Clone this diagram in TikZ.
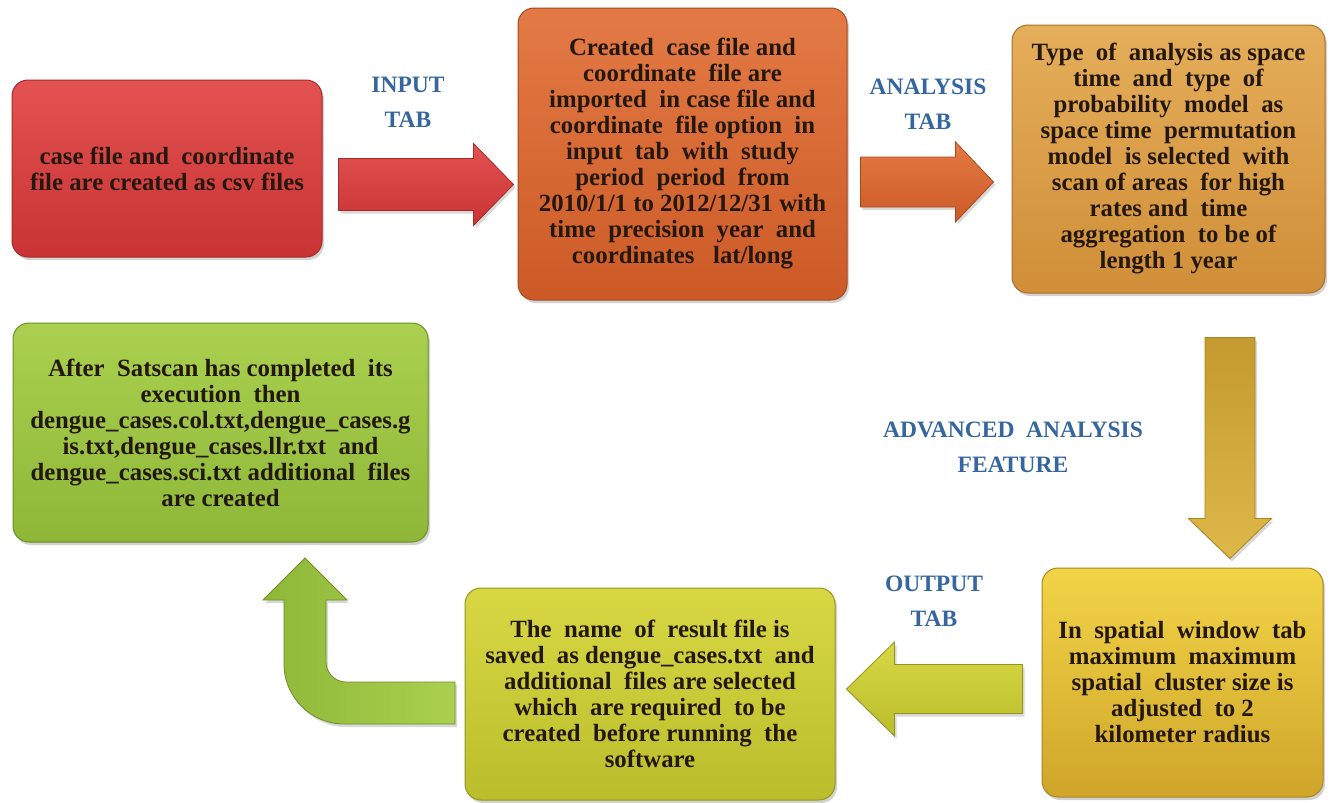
\documentclass[tikz,border=0pt]{standalone}
\usepackage{fontspec}
\setmainfont{Liberation Serif}
\usetikzlibrary{shadows,calc}
\definecolor{boxtext}{HTML}{24180E}
\definecolor{lblblue}{HTML}{35669F}
\definecolor{redT}{HTML}{E35252}\definecolor{redB}{HTML}{C93333}\definecolor{redD}{HTML}{A52A2A}
\definecolor{orT}{HTML}{E37A45}\definecolor{orB}{HTML}{CC5A26}\definecolor{orD}{HTML}{A8481E}
\definecolor{anT}{HTML}{E5AE5A}\definecolor{anB}{HTML}{D08E38}\definecolor{anD}{HTML}{A87028}
\definecolor{goT}{HTML}{F2D447}\definecolor{goB}{HTML}{CFA52A}\definecolor{goD}{HTML}{A88520}
\definecolor{daT}{HTML}{DDB848}\definecolor{daB}{HTML}{C59A30}
\definecolor{ygT}{HTML}{D8D843}\definecolor{ygB}{HTML}{BABD2C}\definecolor{ygD}{HTML}{93951E}
\definecolor{grT}{HTML}{ABD04F}\definecolor{grB}{HTML}{8EB738}\definecolor{grD}{HTML}{6E8F28}
% block arrow: #1 style, #2 tail coordinate, #3 angle, #4 length, #5 shaft half width, #6 head half width, #7 head length
\newcommand{\blockarrow}[7]{%
  \begin{scope}[shift={(#2)},rotate=#3]
    \path[#1] (0,-#5) -- ({#4-#7},-#5) -- ({#4-#7},-#6) -- (#4,0) -- ({#4-#7},#6) -- ({#4-#7},#5) -- (0,#5) -- cycle;
  \end{scope}}
\begin{document}
\begin{tikzpicture}[x=1pt,y=-1pt,
  box/.style={rounded corners=16pt, align=center, inner sep=0pt, text=boxtext,
    font=\bfseries\fontsize{24.8}{26}\selectfont, line width=1pt,
    drop shadow={shadow xshift=2pt,shadow yshift=-3pt,opacity=0.35}},
  lbl/.style={align=center, text=lblblue, font=\bfseries\fontsize{23.5}{35}\selectfont, inner sep=0pt},
  arr/.style={line width=0.8pt, drop shadow={shadow xshift=2pt,shadow yshift=-3pt,opacity=0.3}}]
\useasboundingbox (0,0) rectangle (1331,803);
\fill[white] (0,0) rectangle (1331,803);

% boxes
\node[box, draw=redD, top color=redT, bottom color=redB, minimum width=310pt, minimum height=177pt] (create) at (167,168.5)
  {case file and \ coordinate\\file are created as csv files};
\node[box, draw=orD, top color=orT, bottom color=orB, minimum width=329pt, minimum height=292pt] (import) at (682.5,154)
  {Created \ case file and\\coordinate \ file are\\imported \ in case file and\\coordinate \ file option \ in\\input \ tab \ with \ study\\period \ period \ from\\2010/1/1 to 2012/12/31 with\\time \ precision \ year \ and\\coordinates \ \ lat/long};
\node[box, draw=anD, top color=anT, bottom color=anB, minimum width=313pt, minimum height=268pt] (analysis) at (1168.5,159)
  {Type \ of \ analysis as space\\time \ and \ type \ of\\probability \ model \ as\\space time \ permutation\\model \ is selected \ with\\scan of areas \ for high\\rates and \ time\\aggregation \ to be of\\length 1 year};
\node[box, draw=goD, top color=goT, bottom color=goB, minimum width=281pt, minimum height=229pt] (window) at (1182.5,682.5)
  {In \ spatial \ window \ tab\\maximum \ maximum\\spatial \ cluster size is\\adjusted \ to 2\\kilometer radius};
\node[box, draw=ygD, top color=ygT, bottom color=ygB, minimum width=370pt, minimum height=212pt] (output) at (650,694)
  {The \ name \ of \ result file is\\saved \ as dengue\_cases.txt \ and\\additional \ files are selected\\which \ are required \ to be\\created \ before running \ the\\software};
\node[box, draw=grD, top color=grT, bottom color=grB, minimum width=415pt, minimum height=219pt] (done) at (220.5,432.5)
  {After \ Satscan has completed \ its\\execution \ then\\dengue\_cases.col.txt,dengue\_cases.g\\is.txt,dengue\_cases.llr.txt \ and\\dengue\_cases.sci.txt additional \ files\\are created};

% labels
\node[lbl] (linput) at (408,102) {INPUT\\TAB};
\node[lbl] (lanalysis) at (928,104) {ANALYSIS\\TAB};
\node[lbl] (ladvanced) at (1013,447) {ADVANCED \ ANALYSIS\\FEATURE};
\node[lbl] (loutput) at (934,601) {OUTPUT\\TAB};

% arrow anchor coordinates
\coordinate (a1) at ($(create.east)+(16,16)$);
\coordinate (a2) at ($(import.east)+(13,28)$);
\coordinate (a3) at ($(analysis.south)+(61.5,44)$);
\coordinate (a4) at ($(window.west)+(-19,6.5)$);

\blockarrow{arr, draw=redD, top color=redT, bottom color=redB}{a1}{0}{175}{26}{41}{40}
\blockarrow{arr, draw=orD, top color=orT, bottom color=orB}{a2}{0}{133}{25}{40}{38}
\blockarrow{arr, draw=goD, top color=daB, bottom color=daT}{a3}{-90}{221}{25}{41.5}{40}
\blockarrow{arr, draw=ygD, top color=ygT, bottom color=ygB}{a4}{180}{176}{24.5}{47}{48}

% U-turn arrow from output box to done box
\path[arr, draw=grD, left color=grB, right color=grT]
  (455,724) -- (344,724) .. controls (311,724) and (284,697) .. (284,664)
  -- (284,600) -- (263,600) -- (305,558) -- (347,600) -- (326,600)
  -- (326,662) .. controls (326,673) and (335,682) .. (346,682)
  -- (455,682) -- cycle;
\end{tikzpicture}
\end{document}
